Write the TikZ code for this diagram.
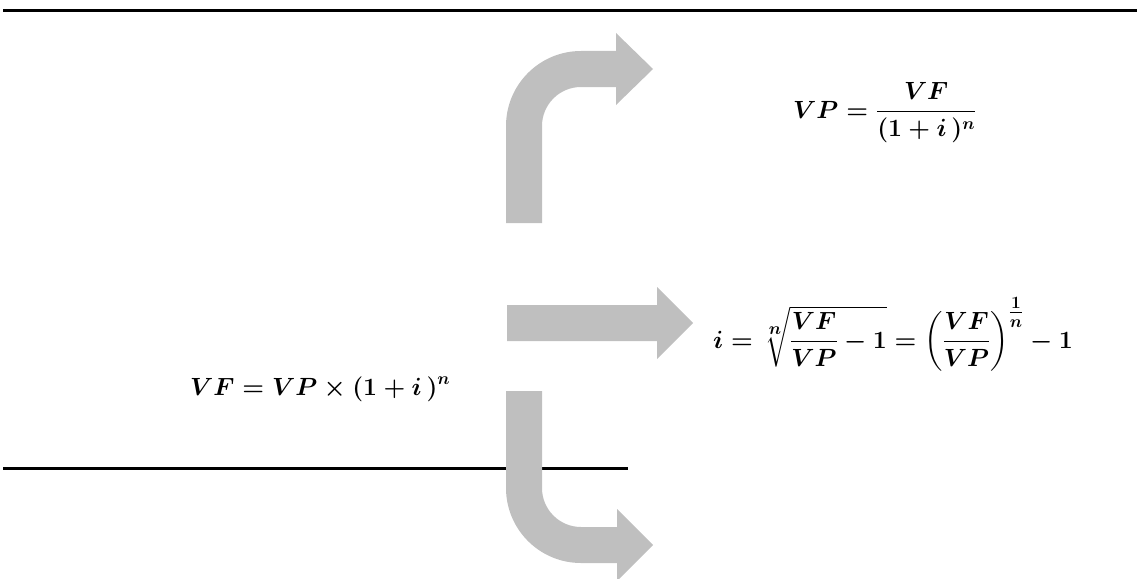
\documentclass[tikz,border=0pt]{standalone}
\usepackage{amsmath}
\definecolor{arrowgray}{RGB}{191,191,191}
\tikzset{
  rule/.style={line width=3pt, black},
  bigarrow/.style={fill=arrowgray, draw=none},
  formula/.style={inner sep=0pt, font=\fontsize{24}{29}\selectfont\boldmath},
  smallformula/.style={inner sep=0pt, font=\fontsize{23}{28}\selectfont\boldmath}
}
\begin{document}
\begin{tikzpicture}[x=1pt,y=-1pt]
\useasboundingbox (0,0) rectangle (1137,578);
% rules
\coordinate (t1) at (3,11);
\coordinate (t2) at (1137,11);
\coordinate (b1) at (3,468);
\coordinate (b2) at (628,468);
\draw[rule] (t1) -- (t2);
\draw[rule] (b1) -- (b2);
% upper bent arrow
\fill[bigarrow] (506,223) [rounded corners=75pt] -- (506,51) [sharp corners] -- (616,51) -- (616,33) -- (653,69) -- (616,105) -- (616,87) [rounded corners=39pt] -- (542,87) [sharp corners] -- (542,223) -- cycle;
% middle straight arrow
\fill[bigarrow] (507,305) -- (657,305) -- (657,287) -- (693,323) -- (657,359) -- (657,341) -- (507,341) -- cycle;
% lower bent arrow
\fill[bigarrow] (506,391) [rounded corners=75pt] -- (506,563) [sharp corners] -- (617,563) -- (617,581) -- (653,545) -- (617,509) -- (617,527) [rounded corners=39pt] -- (542,527) [sharp corners] -- (542,391) -- cycle;
% formulas
\node[formula, anchor=base west] (vp) at (793,118) {$\displaystyle VP=\frac{VF}{(1+i\,)^{n}}$};
\node[smallformula, anchor=base west] (ii) at (713,348) {$\displaystyle i=\sqrt[\scriptstyle n]{\frac{VF}{VP}-1}=\left(\frac{VF}{VP}\right)^{\tfrac{1}{n}}-1$};
\node[formula, anchor=base west] (vf) at (190,395) {$\displaystyle VF=VP\times(1+i\,)^{n}$};
\end{tikzpicture}
\end{document}
